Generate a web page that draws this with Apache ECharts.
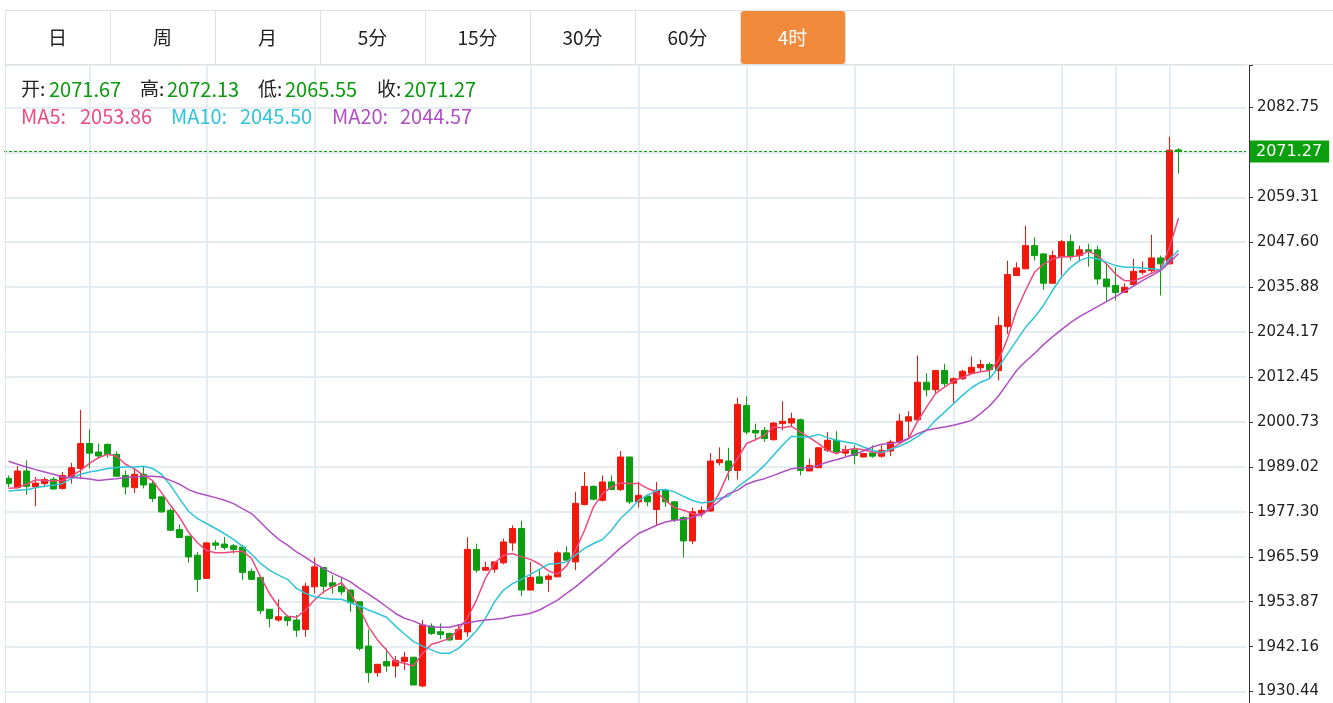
<!DOCTYPE html>
<html>
<head>
<meta charset="utf-8">
<script src="https://cdn.jsdelivr.net/npm/echarts@6/dist/echarts.min.js"></script>
<style>
html,body{margin:0;padding:0;background:#ffffff;overflow:hidden;}
#c{width:1333px;height:703px;}
</style>
</head>
<body>
<div id="c"></div>
<script>
// ---------------- data ----------------
const tabs = ['日', '周', '月', '5分', '15分', '30分', '60分', '4时'];
const activeTab = 7;

const yTickLabels = ['1930.44', '1942.16', '1953.87', '1965.59', '1977.30', '1989.02', '2000.73',
  '2012.45', '2024.17', '2035.88', '2047.60', '2059.31', '2071.03', '2082.75'];
const hiddenTickLabels = ['2071.03'];

const opens = [1986.05,1983.6,1987.95,1983.8,1984.65,1985.8,1983.4,1986.4,1988.6,1995.1,
1992.9,1994.9,1992.3,1986.8,1983.6,1987.1,1984.65,1981.2,1977.7,1972.7,
1970.95,1966.0,1959.95,1969.2,1968.9,1968.45,1968.1,1961.8,1960.2,1951.9,
1949.1,1949.95,1949.1,1946.65,1957.75,1962.8,1958.8,1957.9,1956.9,1953.85,
1942.3,1935.35,1938.25,1937.1,1938.25,1939.4,1931.9,1947.5,1946.05,1945.6,
1944.05,1946.0,1967.5,1962.1,1962.35,1964.0,1969.2,1972.95,1956.9,1960.35,
1959.7,1960.35,1966.6,1964.25,1979.2,1983.95,1980.3,1985.1,1983.1,1991.6,
1979.9,1981.4,1977.9,1982.9,1979.9,1975.8,1969.7,1976.9,1977.5,1990.1,
1990.55,1988.1,2005.05,1998.55,1998.55,1996.1,2000.3,2000.45,2001.3,1987.95,
1988.8,1993.35,1995.95,1992.6,1993.5,1991.6,1992.65,1991.8,1993.15,1995.5,
2000.95,2001.3,2011.1,2009.15,2014.15,2010.85,2012.0,2013.45,2014.85,2015.7,
2014.15,2025.6,2038.9,2040.65,2046.7,2044.55,2036.9,2043.8,2047.75,2044.1,
2045.6,2045.6,2038.0,2036.3,2034.5,2036.55,2039.75,2040.2,2043.5,2041.95,
2071.67];

const closes = [1984.7,1987.95,1983.95,1984.8,1985.7,1983.25,1986.8,1988.8,1995.1,1992.6,
1991.85,1992.3,1986.6,1983.8,1987.1,1984.3,1980.75,1977.3,1972.5,1970.6,
1965.55,1959.7,1969.2,1968.6,1968.0,1967.5,1961.5,1959.7,1951.5,1949.5,
1949.95,1948.9,1946.45,1957.9,1962.95,1957.9,1957.9,1956.45,1953.6,1941.7,
1935.35,1937.55,1937.1,1938.5,1939.4,1932.15,1947.8,1945.6,1945.35,1943.9,
1946.65,1967.5,1962.1,1962.8,1964.25,1969.45,1972.95,1956.9,1960.2,1958.65,
1960.55,1966.6,1964.7,1979.5,1983.95,1980.6,1985.1,1983.1,1991.6,1979.9,
1981.6,1979.9,1982.9,1979.9,1975.3,1969.7,1977.3,1977.7,1990.55,1990.9,
1988.1,2005.3,1998.1,1997.85,1996.4,2000.45,2000.9,2001.6,1988.1,1989.4,
1994.0,1995.95,1992.9,1993.5,1992.0,1992.5,1991.8,1993.35,1995.5,2000.95,
2002.1,2011.1,2009.1,2014.15,2010.7,2012.0,2013.95,2015.0,2015.7,2014.35,
2025.9,2039.15,2040.9,2046.7,2044.1,2036.9,2044.1,2047.75,2043.8,2045.6,
2045.2,2038.0,2036.0,2034.5,2035.85,2040.0,2040.2,2043.5,2041.95,2071.6,
2071.27];

const lows = [1983.7,1983.4,1981.8,1978.75,1983.7,1983.1,1983.1,1984.65,1985.95,1988.6,
1991.2,1991.4,1986.4,1981.8,1982.2,1983.4,1979.9,1977.0,1972.3,1970.6,
1964.0,1956.45,1959.95,1967.4,1967.4,1966.45,1959.5,1959.5,1950.65,1947.2,
1948.65,1947.5,1944.7,1944.7,1956.0,1956.0,1956.0,1955.6,1951.25,1941.1,
1932.75,1934.35,1935.6,1934.1,1936.05,1932.1,1931.55,1945.2,1944.1,1943.6,
1944.05,1944.7,1961.4,1962.1,1961.4,1963.65,1967.1,1955.35,1956.9,1958.65,
1956.45,1960.35,1964.7,1962.1,1979.0,1980.3,1980.0,1983.1,1982.7,1979.3,
1978.4,1978.75,1973.8,1978.6,1974.65,1965.4,1968.85,1975.85,1977.3,1989.4,
1985.5,1985.7,1997.5,1995.9,1995.5,1995.9,1998.55,1999.4,1986.8,1987.95,
1988.8,1992.9,1992.3,1991.8,1989.7,1991.5,1991.4,1991.4,1991.8,1995.1,
1996.8,2001.1,2007.4,2008.1,2010.0,2005.65,2011.7,2013.3,2013.95,2012.25,
2011.55,2023.7,2038.9,2040.65,2042.8,2035.2,2036.9,2038.9,2042.8,2042.6,
2041.2,2036.55,2031.95,2032.4,2034.5,2036.3,2039.15,2039.35,2033.7,2041.95,
2065.55];

const highs = [1986.8,1989.25,1990.7,1986.4,1986.3,1986.4,1987.7,1990.1,2003.9,1998.8,
1995.1,1995.1,1993.1,1988.1,1988.6,1989.0,1985.5,1981.3,1978.2,1974.0,
1971.0,1966.85,1969.45,1969.9,1970.75,1968.9,1968.7,1962.5,1960.2,1951.9,
1954.5,1950.4,1950.4,1958.8,1965.4,1962.8,1960.8,1960.2,1957.1,1953.85,
1946.65,1937.55,1941.7,1939.7,1940.8,1939.4,1949.1,1948.2,1948.2,1945.8,
1948.05,1970.7,1969.0,1964.3,1964.3,1970.35,1973.8,1974.95,1964.25,1962.1,
1961.05,1967.05,1968.35,1982.5,1987.7,1984.2,1986.8,1986.8,1993.15,1991.6,
1985.1,1981.9,1985.1,1983.3,1980.0,1976.15,1978.4,1978.75,1992.6,1994.1,
1994.0,2007.05,2007.4,2000.3,1999.4,2000.7,2006.15,2003.15,2001.6,1991.2,
1994.2,1998.1,1998.35,1994.65,1994.65,1992.6,1994.65,1994.65,1996.1,2002.9,
2003.55,2018.05,2013.45,2014.35,2015.9,2012.4,2014.35,2017.8,2016.95,2016.3,
2028.2,2042.8,2042.35,2051.9,2048.85,2044.6,2045.4,2048.2,2049.55,2046.7,
2047.2,2046.7,2041.95,2041.05,2036.9,2043.25,2042.6,2049.55,2044.1,2075.1,
2072.13];

const ma5 = [1983.45,1983.6,1984.5,1985.65,1985.5,1985.4,1985.5,1986.6,1988.1,1989.95,
1991.4,1992.3,1991.8,1989.7,1988.5,1986.8,1985.5,1982.3,1979.0,1975.9,
1972.0,1969.25,1967.2,1966.65,1966.65,1966.9,1967.05,1965.2,1960.35,1956.0,
1952.55,1950.1,1949.8,1951.7,1954.3,1956.45,1957.75,1958.8,1956.0,1952.1,
1947.3,1943.9,1941.25,1938.2,1937.8,1937.1,1940.4,1942.8,1943.45,1944.3,
1946.65,1949.7,1954.3,1960.0,1963.9,1966.0,1966.45,1965.55,1964.9,1963.7,
1961.9,1961.05,1963.15,1967.3,1972.5,1978.6,1982.05,1983.8,1984.8,1984.7,
1984.7,1983.4,1982.5,1980.3,1978.4,1977.7,1976.85,1976.4,1978.4,1982.3,
1987.6,1991.2,1995.1,1996.1,1997.25,1999.4,1999.25,1999.6,1998.1,1996.65,
1995.1,1993.35,1992.5,1993.35,1993.8,1993.5,1992.9,1992.5,1993.6,1995.1,
1996.4,2000.9,2004.6,2008.1,2009.8,2011.4,2012.4,2013.3,2013.8,2014.15,
2016.75,2022.5,2029.8,2035.0,2039.75,2041.9,2043.2,2043.8,2043.8,2044.1,
2045.2,2044.1,2041.9,2039.3,2037.6,2037.45,2038.4,2039.55,2040.45,2046.25,
2053.86];

const ma10 = [1982.75,1982.9,1983.05,1983.6,1983.95,1984.2,1984.7,1986.0,1987.1,1987.7,
1988.1,1988.6,1988.85,1989.0,1989.0,1989.2,1988.6,1987.1,1984.2,1980.75,
1977.45,1975.55,1974.25,1972.95,1971.65,1970.1,1968.3,1966.3,1963.85,1962.1,
1960.8,1959.7,1957.35,1956.05,1955.15,1954.75,1954.5,1954.5,1953.6,1952.75,
1951.7,1950.8,1949.8,1947.5,1945.45,1943.45,1942.3,1941.3,1940.4,1940.4,
1941.7,1943.9,1946.3,1949.5,1953.85,1956.9,1958.6,1959.7,1961.05,1962.3,
1963.65,1963.85,1964.25,1966.0,1967.75,1969.05,1970.1,1972.5,1975.55,1977.7,
1980.3,1981.6,1982.9,1983.1,1982.5,1981.35,1980.25,1979.6,1979.9,1980.85,
1981.35,1983.8,1985.5,1987.25,1989.4,1992.05,1994.65,1997.0,1996.8,1996.8,
1997.5,1996.65,1995.95,1995.5,1995.1,1994.2,1993.35,1992.8,1993.6,1994.4,
1995.5,1996.9,1998.6,2001.15,2003.3,2005.5,2007.65,2009.65,2011.1,2012.0,
2015.0,2018.5,2021.95,2025.4,2028.0,2031.1,2035.0,2038.45,2041.05,2042.8,
2043.65,2043.2,2042.4,2041.5,2041.05,2041.05,2040.9,2040.7,2040.45,2043.2,
2045.50];

const ma20 = [1990.5,1989.7,1989.0,1988.3,1987.7,1987.1,1986.4,1986.25,1986.1,1985.85,
1985.45,1985.7,1985.95,1986.25,1986.4,1986.6,1986.6,1986.4,1985.5,1984.5,
1983.1,1982.2,1981.6,1981.0,1980.3,1979.45,1978.15,1976.85,1974.6,1972.25,
1970.2,1968.6,1966.85,1965.4,1963.85,1962.55,1961.25,1960.2,1959.05,1957.35,
1955.85,1954.3,1952.55,1950.8,1949.55,1948.8,1947.8,1947.35,1947.2,1947.2,
1947.8,1948.4,1948.8,1949.1,1949.3,1949.55,1950.15,1950.4,1950.85,1951.7,
1953.0,1954.3,1956.05,1957.75,1959.7,1961.65,1963.65,1965.75,1967.9,1969.75,
1971.65,1972.7,1973.8,1974.65,1975.1,1975.3,1975.9,1976.7,1978.25,1980.2,
1982.05,1982.9,1984.5,1985.35,1985.95,1986.8,1987.7,1988.55,1988.8,1988.8,
1989.4,1990.3,1990.9,1991.6,1992.3,1993.15,1994.2,1994.9,1995.1,1995.5,
1996.4,1997.7,1998.55,1999.0,1999.4,1999.85,2000.45,2001.15,2002.9,2004.9,
2007.5,2010.8,2014.15,2016.5,2018.6,2020.9,2022.9,2024.8,2026.65,2028.2,
2029.5,2030.8,2032.1,2033.4,2034.8,2036.15,2037.6,2038.9,2040.2,2042.35,
2044.57];

// candle indices where the vertical (time) grid lines fall
const timeGridIndex = [9, 22, 34, 58, 70, 82, 94, 105, 117, 123, 129];
const emptySlotsRight = 7;

// ---------------- styles ----------------
const RED = '#f2180c';
const GREEN = '#0b9f10';
const GREEN_TXT = '#0a9a0c';
const C_MA5 = '#ec4a7e';
const C_MA10 = '#2ec4da';
const C_MA20 = '#b04fc4';
const GRID = '#e5ecf2';
const TXT = '#222';
const CJK = '"Noto Sans CJK SC", "Microsoft YaHei", sans-serif';
const NUMFONT = '"DejaVu Sans", Verdana, sans-serif';

// ---------------- build ----------------
const n = opens.length;
const categories = [];
for (let i = 0; i < n + emptySlotsRight; i++) categories.push(i < n ? String(i + 1) : '');
const candles = opens.map((o, i) => [o, closes[i], lows[i], highs[i]]);

const firstTick = parseFloat(yTickLabels[0]);
const lastTick = parseFloat(yTickLabels[yTickLabels.length - 1]);
const yStep = (lastTick - firstTick) / (yTickLabels.length - 1);
const yMin = firstTick - yStep;
const yMax = 2093.8;

const last = n - 1;
const fmt = v => v.toFixed(2);

const chart = echarts.init(document.getElementById('c'), null, { renderer: 'canvas' });

const graphics = [];
// tab bar
graphics.push({ type: 'line', z: 50, shape: { x1: 5, y1: 10.5, x2: 1333, y2: 10.5 }, style: { stroke: '#e1e1e1', lineWidth: 1 } });
graphics.push({ type: 'line', z: 50, shape: { x1: 5, y1: 64.5, x2: 1333, y2: 64.5 }, style: { stroke: '#e1e1e1', lineWidth: 1 } });
graphics.push({ type: 'line', z: 50, shape: { x1: 5.5, y1: 10, x2: 5.5, y2: 703 }, style: { stroke: '#e1e6ea', lineWidth: 1 } });
for (let k = 1; k <= tabs.length; k++) {
  const x = 5 + 105 * k + 0.5;
  graphics.push({ type: 'line', z: 50, shape: { x1: x, y1: 10, x2: x, y2: 64 }, style: { stroke: '#e1e1e1', lineWidth: 1 } });
}
graphics.push({ type: 'rect', z: 51, shape: { x: 5 + 105 * activeTab + 1, y: 11, width: 104, height: 53, r: 3 }, style: { fill: '#f28a3b' } });
tabs.forEach((t, k) => {
  graphics.push({ type: 'text', z: 52, x: 5 + 105 * k + 52.5, y: 38,
    style: { text: t, fill: k === activeTab ? '#ffffff' : TXT, fontSize: 19, fontFamily: CJK, align: 'center', verticalAlign: 'middle' } });
});
// info rows
const row1 = [['开:', 21, 49, opens[last]], ['高:', 140, 167, highs[last]], ['低:', 258, 285, lows[last]], ['收:', 377, 404, closes[last]]];
row1.forEach(r => {
  graphics.push({ type: 'text', z: 52, x: r[1], y: 89, style: { text: r[0], fill: TXT, fontSize: 19, fontFamily: CJK, align: 'left', verticalAlign: 'middle' } });
  graphics.push({ type: 'text', z: 52, x: r[2], y: 89, style: { text: fmt(r[3]), fill: GREEN_TXT, fontSize: 20, fontFamily: CJK, align: 'left', verticalAlign: 'middle' } });
});
const row2 = [['MA5:', 21, 80, ma5[last], C_MA5], ['MA10:', 171, 240, ma10[last], C_MA10], ['MA20:', 332, 400, ma20[last], C_MA20]];
row2.forEach(r => {
  graphics.push({ type: 'text', z: 52, x: r[1], y: 116, style: { text: r[0], fill: r[4], fontSize: 20, fontFamily: CJK, align: 'left', verticalAlign: 'middle' } });
  graphics.push({ type: 'text', z: 52, x: r[2], y: 116, style: { text: fmt(r[3]), fill: r[4], fontSize: 20, fontFamily: CJK, align: 'left', verticalAlign: 'middle' } });
});

const option = {
  animation: false,
  backgroundColor: '#ffffff',
  grid: { left: 4, right: 87, top: 65, bottom: -33.5, containLabel: false, outerBoundsMode: 'none' },
  xAxis: {
    type: 'category',
    data: categories,
    boundaryGap: true,
    axisLine: { show: false },
    axisTick: { show: false },
    axisLabel: { show: false },
    splitLine: {
      show: true,
      alignWithLabel: true,
      interval: (idx) => timeGridIndex.indexOf(idx) >= 0,
      lineStyle: { color: GRID, width: 2 }
    }
  },
  yAxis: {
    type: 'value',
    position: 'right',
    offset: 3,
    min: yMin,
    max: yMax,
    interval: yStep,
    axisLine: { show: true, lineStyle: { color: '#333', width: 1 } },
    axisTick: { show: true, length: 4, lineStyle: { color: '#333', width: 1 } },
    axisLabel: {
      show: true, color: '#222', fontSize: 15, fontFamily: NUMFONT, margin: 8,
      padding: [3, 0, 0, 0],
      showMinLabel: true, showMaxLabel: true,
      formatter: (v) => {
        for (const s of yTickLabels) {
          if (Math.abs(parseFloat(s) - v) < 1 && hiddenTickLabels.indexOf(s) < 0) return s;
        }
        return '';
      }
    },
    splitLine: { show: true, lineStyle: { color: GRID, width: 2 } }
  },
  series: [
    {
      type: 'candlestick',
      name: 'K',
      data: candles,
      barWidth: 6,
      z: 2,
      itemStyle: { color: RED, color0: GREEN, borderColor: RED, borderColor0: GREEN, borderWidth: 1 },
      markLine: {
        silent: true,
        symbol: ['none', 'none'],
        animation: false,
        data: [{ yAxis: closes[last] }],
        lineStyle: { color: '#0aa00e', type: [3, 2], width: 1 },
        label: {
          show: true, position: 'end', distance: 4,
          formatter: () => fmt(closes[last]),
          color: '#ffffff', backgroundColor: '#0aa00e',
          fontSize: 16, fontFamily: NUMFONT, padding: [4, 7, 2, 6]
        },
        emphasis: { disabled: true }
      }
    },
    { type: 'line', name: 'MA5', data: ma5, showSymbol: false, symbol: 'none', z: 3, lineStyle: { color: C_MA5, width: 1.5 }, itemStyle: { color: C_MA5 } },
    { type: 'line', name: 'MA10', data: ma10, showSymbol: false, symbol: 'none', z: 3, lineStyle: { color: C_MA10, width: 1.5 }, itemStyle: { color: C_MA10 } },
    { type: 'line', name: 'MA20', data: ma20, showSymbol: false, symbol: 'none', z: 3, lineStyle: { color: C_MA20, width: 1.5 }, itemStyle: { color: C_MA20 } }
  ],
  graphic: { elements: graphics }
};
chart.setOption(option);
</script>
</body>
</html>
